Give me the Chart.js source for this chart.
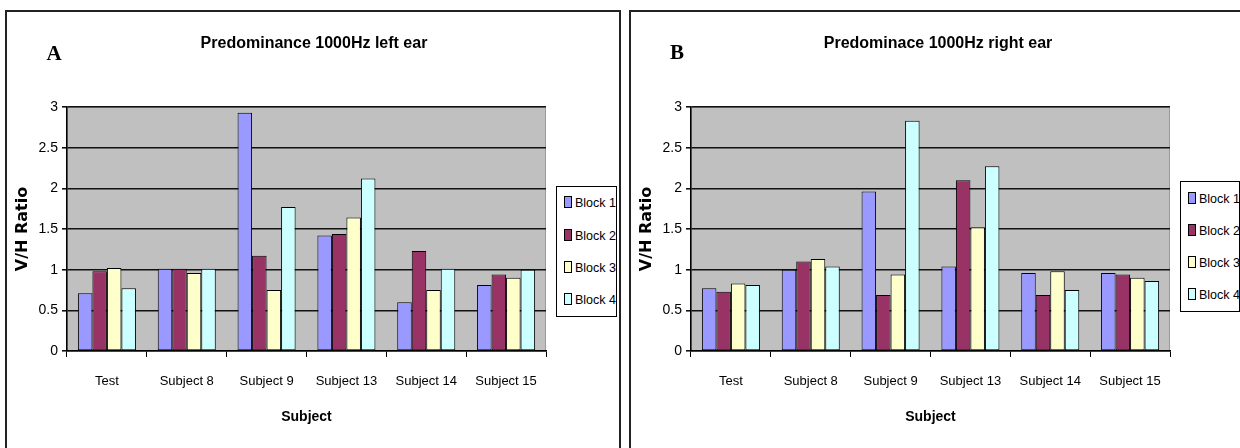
<!DOCTYPE html>
<html>
<head>
<meta charset="utf-8">
<script src="https://cdn.jsdelivr.net/npm/chart.js@4.4.0/dist/chart.umd.min.js"></script>
<style>
  html, body { margin:0; padding:0; background:#fff; }
  body { width:1240px; height:448px; position:relative; overflow:hidden; }
  .panel { position:absolute; border:2px solid #222; box-sizing:border-box; }
  canvas { position:absolute; top:0; }
  .ttl { position:absolute; font-family:'Liberation Sans',Arial,sans-serif; font-weight:bold; font-size:16px; transform:translate(-50%,-50%); white-space:nowrap; color:#000; }
  .let { position:absolute; font-family:'Liberation Serif','DejaVu Serif',serif; font-weight:bold; font-size:21px; transform:translate(-50%,-50%); color:#000; }
  .legend { position:absolute; border:1px solid #000; background:#fff; box-sizing:border-box; }
  .li { position:absolute; left:7px; height:16px; font-family:'Liberation Sans',Arial,sans-serif; font-size:12.5px; line-height:16px; white-space:nowrap; color:#000; }
  .sw { display:inline-block; width:6px; height:10px; border:1px solid #000; vertical-align:-1px; margin-right:3px; }
</style>
</head>
<body>
<div class="panel" style="left:5px;top:10px;width:616px;height:460px;"></div>
<div class="panel" style="left:629px;top:10px;width:640px;height:460px;"></div>
<canvas id="cA" width="620" height="448" style="left:0px"></canvas>
<canvas id="cB" width="620" height="448" style="left:620px"></canvas>
<div class="let" style="left:54px;top:53px;">A</div>
<div class="let" style="left:677px;top:52px;">B</div>
<div class="ttl" style="left:314px;top:43px;">Predominance 1000Hz left ear</div>
<div class="ttl" style="left:938px;top:43px;">Predominace 1000Hz right ear</div>
<div id="legA" class="legend" style="left:556px;top:186px;width:61px;height:131px;"></div>
<div id="legB" class="legend" style="left:1180px;top:181px;width:60px;height:131px;"></div>
<script>
const categories = ['Test', 'Subject 8', 'Subject 9', 'Subject 13', 'Subject 14', 'Subject 15'];
const seriesNames = ['Block 1', 'Block 2', 'Block 3', 'Block 4'];
const seriesColors = ['#9999FF', '#993366', '#FFFFCC', '#CCFFFF'];

const leftBlock1 = [0.71, 1.01, 2.93, 1.42, 0.60, 0.81];
const leftBlock2 = [0.98, 1.01, 1.17, 1.44, 1.23, 0.94];
const leftBlock3 = [1.02, 0.96, 0.75, 1.64, 0.75, 0.90];
const leftBlock4 = [0.77, 1.01, 1.77, 2.12, 1.01, 1.00];

const rightBlock1 = [0.77, 1.00, 1.96, 1.04, 0.96, 0.96];
const rightBlock2 = [0.73, 1.10, 0.69, 2.10, 0.69, 0.94];
const rightBlock3 = [0.83, 1.13, 0.94, 1.52, 0.98, 0.90];
const rightBlock4 = [0.81, 1.04, 2.83, 2.27, 0.75, 0.86];

const yMin = 0, yMax = 3, yStep = 0.5;
const xTitle = 'Subject';
const yTitle = 'V/H Ratio';

const SANS = "'Liberation Sans',Arial,sans-serif";

const plotBg = {
  id: 'plotBg',
  beforeDraw(chart) {
    const {ctx, chartArea: a} = chart;
    ctx.save();
    ctx.fillStyle = '#C0C0C0';
    ctx.fillRect(a.left, a.top, a.right - a.left, a.bottom - a.top);
    ctx.strokeStyle = '#9a9a9a';
    ctx.lineWidth = 1;
    ctx.strokeRect(a.left + 0.5, a.top + 0.5, a.right - a.left - 1, a.bottom - a.top - 1);
    ctx.restore();
  }
};

function makeChart(id, data, yWidth, rightPad, yTitlePad) {
  const datasets = data.map((vals, i) => ({
    label: seriesNames[i],
    data: vals,
    backgroundColor: seriesColors[i],
    borderColor: '#000',
    borderWidth: 1,
    borderSkipped: false,
    categoryPercentage: 0.727,
    barPercentage: 1.0
  }));
  return new Chart(document.getElementById(id), {
    type: 'bar',
    data: { labels: categories, datasets },
    plugins: [plotBg],
    options: {
      responsive: false,
      animation: false,
      devicePixelRatio: 1,
      layout: { padding: { top: 107, right: rightPad, bottom: 0, left: 0 } },
      plugins: { legend: { display: false }, title: { display: false }, tooltip: { enabled: false } },
      scales: {
        x: {
          grid: { display: true, drawOnChartArea: false, drawTicks: true, tickLength: 6, color: '#000', lineWidth: 1, offset: true },
          border: { display: true, color: '#000', width: 1.5 },
          ticks: { color: '#000', font: { family: SANS, size: 13 }, padding: 17, maxRotation: 0, autoSkip: false },
          title: { display: true, text: xTitle, color: '#000', font: { family: SANS, size: 14, weight: 'bold' }, padding: { top: 0, bottom: 22 } },
          afterFit(scale) { scale.height = 97; }
        },
        y: {
          min: yMin, max: yMax,
          grid: { color: '#111', lineWidth: 1.6, drawTicks: true, tickLength: 5 },
          border: { display: true, color: '#000', width: 1.5 },
          ticks: { stepSize: yStep, color: '#000', font: { family: SANS, size: 14 }, padding: 4,
                   callback: (v) => String(Math.round(v * 10) / 10) },
          title: { display: true, text: yTitle, color: '#000', font: { family: "'DejaVu Sans','Liberation Sans',sans-serif", size: 16, weight: 'bold' }, padding: { top: yTitlePad, bottom: 0 } },
          afterFit(scale) { scale.width = yWidth; }
        }
      }
    }
  });
}

makeChart('cA', [leftBlock1, leftBlock2, leftBlock3, leftBlock4], 67, 74, 13);
makeChart('cB', [rightBlock1, rightBlock2, rightBlock3, rightBlock4], 71, 70, 17);

function buildLegend(elId, tops) {
  const el = document.getElementById(elId);
  seriesNames.forEach((name, i) => {
    const d = document.createElement('div');
    d.className = 'li';
    d.style.top = tops[i] + 'px';
    const s = document.createElement('span');
    s.className = 'sw';
    s.style.background = seriesColors[i];
    d.appendChild(s);
    d.appendChild(document.createTextNode(name));
    el.appendChild(d);
  });
}
buildLegend('legA', [8, 41, 73, 105]);
buildLegend('legB', [9, 41, 73, 105]);
</script>
</body>
</html>
